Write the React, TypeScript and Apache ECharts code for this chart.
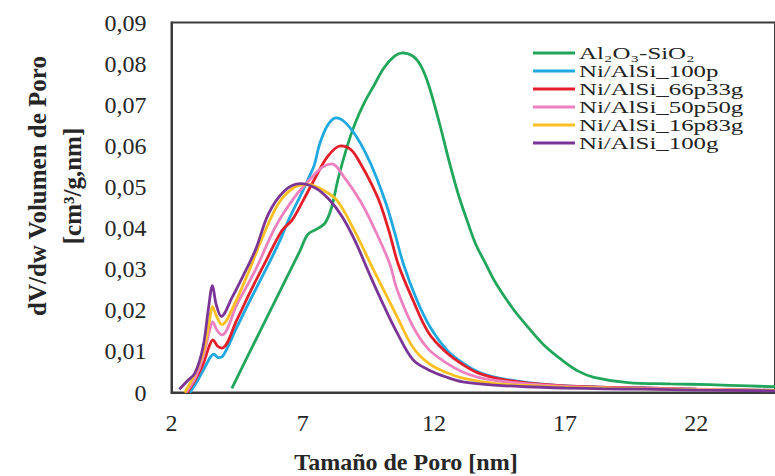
import React, { useEffect, useRef } from 'react';
import * as echarts from 'echarts';

// Tamaño de poro [nm] / dV/dw [cm3/g.nm]
const xAlSi = [4.3, 4.8, 5.5, 6.2, 6.9, 7.2, 7.55, 7.85, 8.1, 8.35, 8.7, 9.0, 9.35, 9.7, 10.1, 10.5, 10.8, 11.2, 11.5, 11.8, 12.2, 12.6, 12.95, 13.3, 13.6, 14.0, 14.35, 15.0, 15.6, 16.2, 16.9, 17.5, 18.1, 19.4, 21, 22.5, 24, 25];
const yAlSi = [0.001, 0.0075, 0.0165, 0.0255, 0.0345, 0.0385, 0.0398, 0.0412, 0.045, 0.052, 0.060, 0.0655, 0.0705, 0.0745, 0.079, 0.0818, 0.0826, 0.0818, 0.0795, 0.0748, 0.0658, 0.0558, 0.0478, 0.0412, 0.036, 0.031, 0.0267, 0.0205, 0.0158, 0.0115, 0.0078, 0.0052, 0.0037, 0.0024, 0.0021, 0.0019, 0.0016, 0.0014];

const x100p = [2.7, 3.0, 3.3, 3.5, 3.62, 3.78, 3.95, 4.5, 5.0, 5.6, 6.1, 6.5, 7.0, 7.25, 7.45, 7.65, 7.95, 8.27, 8.6, 9.0, 9.4, 9.8, 10.2, 10.5, 10.85, 11.35, 11.85, 12.5, 13.1, 13.7, 14.5, 15.6, 17, 18.5, 20, 22, 25];
const y100p = [0, 0.003, 0.0065, 0.0088, 0.0093, 0.0085, 0.0088, 0.016, 0.0225, 0.030, 0.0365, 0.0425, 0.049, 0.0525, 0.0555, 0.0605, 0.065, 0.0668, 0.0658, 0.0627, 0.0582, 0.0525, 0.0455, 0.039, 0.031, 0.0225, 0.016, 0.0103, 0.0072, 0.005, 0.0035, 0.0024, 0.0016, 0.0013, 0.0011, 0.0008, 0.0005];

const x66p33g = [2.6, 2.9, 3.2, 3.45, 3.58, 3.75, 3.92, 4.5, 5.0, 5.6, 6.2, 6.6, 7.0, 7.46, 7.96, 8.45, 8.85, 9.2, 9.6, 9.95, 10.3, 10.65, 11.2, 11.8, 12.5, 13.1, 13.7, 14.5, 15.6, 17, 18.5, 20, 22, 25];
const y66p33g = [0, 0.003, 0.0068, 0.0115, 0.0128, 0.0113, 0.0108, 0.0178, 0.0245, 0.032, 0.0393, 0.042, 0.0465, 0.052, 0.0575, 0.060, 0.059, 0.0557, 0.051, 0.046, 0.039, 0.031, 0.0225, 0.0145, 0.0096, 0.0068, 0.0047, 0.0033, 0.0023, 0.0016, 0.0013, 0.0011, 0.0008, 0.0005];

const x50p50g = [2.55, 2.9, 3.2, 3.45, 3.57, 3.73, 3.92, 4.5, 5.2, 5.96, 6.7, 7.3, 7.75, 8.1, 8.6, 9.2, 9.7, 10.3, 10.6, 11.2, 11.8, 12.5, 13.1, 13.7, 14.5, 15.6, 17, 18.5, 20, 22, 25];
const y50p50g = [0, 0.0035, 0.0085, 0.015, 0.0172, 0.0152, 0.014, 0.0215, 0.0298, 0.0403, 0.0476, 0.052, 0.0548, 0.0556, 0.0522, 0.0465, 0.0403, 0.0316, 0.025, 0.0161, 0.0105, 0.0071, 0.005, 0.0037, 0.0028, 0.0021, 0.0015, 0.0012, 0.001, 0.0008, 0.0005];

const x16p83g = [2.5, 2.85, 3.2, 3.45, 3.56, 3.72, 3.92, 4.4, 4.95, 5.45, 6.1, 6.7, 7.2, 7.7, 8.3, 9.0, 9.7, 10.2, 10.6, 11.2, 11.8, 12.5, 13.1, 14.3, 15.5, 17, 18.5, 20, 22, 25];
const y16p83g = [0, 0.004, 0.0095, 0.0175, 0.0209, 0.0185, 0.0165, 0.0215, 0.0295, 0.0375, 0.0462, 0.050, 0.0506, 0.0495, 0.0468, 0.039, 0.0298, 0.0235, 0.0184, 0.011, 0.0071, 0.0048, 0.0035, 0.0022, 0.0017, 0.0013, 0.0011, 0.0009, 0.0007, 0.0005];

const x100g = [2.3, 2.6, 2.9, 3.2, 3.42, 3.56, 3.7, 3.9, 4.3, 4.7, 5.2, 5.7, 6.3, 6.9, 7.5, 8.0, 8.5, 9.0, 9.6, 10.1, 10.6, 11.2, 11.8, 12.5, 13.1, 14.3, 15.5, 17, 18.5, 20, 22, 25];
const y100g = [0.0008, 0.0028, 0.0048, 0.011, 0.021, 0.026, 0.0215, 0.0185, 0.023, 0.028, 0.0347, 0.0435, 0.049, 0.0508, 0.0497, 0.047, 0.0428, 0.0368, 0.028, 0.021, 0.0145, 0.008, 0.0055, 0.0037, 0.0026, 0.0018, 0.0014, 0.0011, 0.0009, 0.0008, 0.0006, 0.0004];

const seriesNames = ['Al₂O₃-SiO₂', 'Ni/AlSi_100p', 'Ni/AlSi_66p33g', 'Ni/AlSi_50p50g', 'Ni/AlSi_16p83g', 'Ni/AlSi_100g'];
const seriesX = [xAlSi, x100p, x66p33g, x50p50g, x16p83g, x100g];
const seriesY = [yAlSi, y100p, y66p33g, y50p50g, y16p83g, y100g];
const colors = ['#22a65b', '#20a9e0', '#e3202a', '#ef80c0', '#fdc022', '#7b3597'];

const xTitle = 'Tamaño de Poro [nm]';
const yTitleLines = ['dV/dw Volumen de Poro', '[cm³/g,nm]'];

const FONT = "'Liberation Serif', 'Times New Roman', serif";

export default function App() {
  const ref = useRef<HTMLDivElement>(null);
  useEffect(() => {
    const chart = echarts.init(ref.current!, null, { renderer: 'svg' });
    const series = seriesNames.map((name, i) => ({
      name,
      type: 'line',
      data: seriesX[i].map((x, j) => [x, seriesY[i][j]]),
      smooth: 0.35,
      symbol: 'none',
      showSymbol: false,
      lineStyle: { width: 2.8, color: colors[i] },
      itemStyle: { color: colors[i] },
      z: 2 + i,
    }));
    // legend drawn as graphic rows (line + widened text), like the reference
    const legendTop = 53;
    const rowH = 18;
    const legendRows = seriesNames.map((name, i) => ({
      type: 'group',
      children: [
        {
          type: 'line',
          shape: { x1: 533, y1: legendTop + i * rowH, x2: 575, y2: legendTop + i * rowH },
          style: { stroke: colors[i], lineWidth: 3 },
        },
        {
          type: 'text',
          x: 579,
          y: legendTop + i * rowH,
          scaleX: 1.42,
          style: {
            text: name,
            fontFamily: FONT,
            fontSize: 17.5,
            fill: '#222222',
            align: 'left',
            verticalAlign: 'middle',
          },
        },
      ],
    }));
    chart.setOption({
      animation: false,
      backgroundColor: '#ffffff',
      grid: {
        left: 171.5,
        top: 22.5,
        right: -8,
        bottom: 83.5,
        show: true,
        borderColor: '#3a3a3a',
        borderWidth: 2,
        backgroundColor: 'transparent',
      },
      xAxis: {
        type: 'value',
        min: 2,
        max: 25,
        interval: 5,
        axisLine: { show: true, lineStyle: { color: '#3a3a3a', width: 2 } },
        axisTick: { show: false },
        splitLine: { show: false },
        axisLabel: {
          fontFamily: FONT,
          fontSize: 24,
          color: '#262626',
          margin: 18,
          showMaxLabel: false,
        },
      },
      yAxis: {
        type: 'value',
        min: 0,
        max: 0.09,
        interval: 0.01,
        axisLine: { show: true, lineStyle: { color: '#3a3a3a', width: 2 } },
        axisTick: { show: false },
        splitLine: { show: false },
        axisLabel: {
          fontFamily: FONT,
          fontSize: 24,
          color: '#262626',
          margin: 25,
          formatter: (v: number) => (v === 0 ? '0' : v.toFixed(2).replace('.', ',')),
        },
      },
      graphic: [
        ...legendRows,
        {
          type: 'text',
          x: 54.5,
          y: 186,
          rotation: Math.PI / 2,
          style: {
            text: yTitleLines.join('\n'),
            fontFamily: FONT,
            fontSize: 25,
            fontWeight: 'bold',
            lineHeight: 35,
            fill: '#262626',
            align: 'center',
            verticalAlign: 'middle',
          },
        },
        {
          type: 'text',
          x: 406,
          y: 462,
          style: {
            text: xTitle,
            fontFamily: FONT,
            fontSize: 24,
            fontWeight: 'bold',
            fill: '#262626',
            align: 'center',
            verticalAlign: 'middle',
          },
        },
      ],
      series,
    });
    return () => chart.dispose();
  }, []);
  return <div ref={ref} style={{ position: 'absolute', left: 0, top: 0, width: 775, height: 476 }} />;
}
